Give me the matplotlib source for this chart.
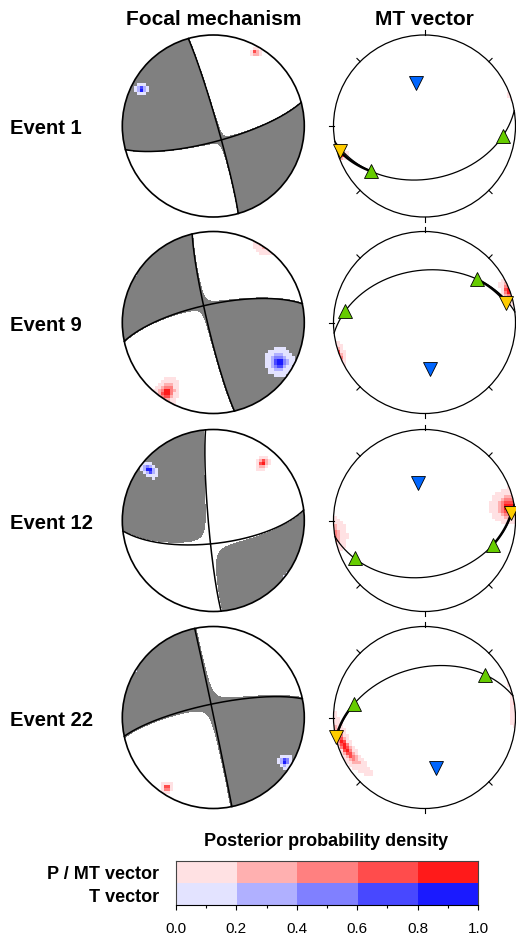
import numpy as np
import matplotlib

matplotlib.use("Agg")
import matplotlib.pyplot as plt
from matplotlib.colors import to_rgba, to_rgb
from matplotlib.patches import Circle

plt.rcParams["font.family"] = ["Liberation Sans", "DejaVu Sans"]

W, H = 516, 936

events = ["Event 1", "Event 9", "Event 12", "Event 22"]

# P and T axes of the best solutions (trend, plunge in degrees)
p_trend = [30.3, 213.4, 41.1, 213.8]
p_plunge = [7.2, 7.9, 17.7, 8.8]
t_trend = [297.4, 121.3, 308.3, 121.0]
t_plunge = [12.2, 15.3, 11.4, 7.9]
# small isotropic part of each moment tensor
iso_part = [0.006, 0.012, -0.035, 0.027]

# spread of the posterior P / T axes (major, minor sigma in degrees)
p_sigma = [(1.8, 1.2), (6.0, 2.8), (3.0, 1.5), (2.6, 1.4)]
t_sigma = [(2.4, 1.6), (5.4, 3.4), (4.2, 1.6), (2.9, 1.7)]

# MT vector panels (trend, plunge in degrees)
mt_blue = [(349.2, 49.8), (173.0, 47.0), (349.8, 55.8), (166.9, 42.8)]
mt_yellow = [(253.6, 3.0), (76.4, 8.4), (85.3, 4.9), (257.7, 0.8)]
mt_green_a = [(230.1, 23.8), (278.2, 13.0), (241.6, 13.7), (280.6, 22.0)]
mt_green_b = [(97.3, 14.3), (50.6, 26.0), (109.7, 21.3), (55.1, 19.4)]
mt_arc_end = ["a", "b", "b", "a"]
# posterior density of the MT vector: trend, plunge, sigma major, sigma minor, rotation
mt_post = [
    (250.0, 4.0, 2.5, 1.2, 0.0),
    (69.4, 2.5, 3.0, 3.0, 0.0),
    (81.0, 7.0, 7.0, 4.2, 0.0),
    (250.0, 7.0, 9.0, 3.0, -69.0),
]

levels = [0.0, 0.2, 0.4, 0.6, 0.8, 1.0]
red_colors = ["#ffe1e3", "#ffb0b0", "#ff8080", "#ff4c4c", "#ff1a1a"]
blue_colors = ["#e3e3ff", "#b0b0ff", "#8080ff", "#4848ff", "#1a1aff"]

row_y = [126, 322.5, 520.5, 717.5]
fm_x, mt_x, radius = 213.3, 424.5, 91


def unit(trend, plunge):
    t, p = np.radians(trend), np.radians(plunge)
    return np.array([np.cos(p) * np.sin(t), np.cos(p) * np.cos(t), np.sin(p)])


def project(v):
    # lower hemisphere, equal area
    v = np.asarray(v, float)
    v = np.where(v[..., 2:3] < 0, -v, v)
    theta = np.arccos(np.clip(v[..., 2], -1, 1))
    r = np.sqrt(2) * np.sin(theta / 2)
    az = np.arctan2(v[..., 0], v[..., 1])
    return r * np.sin(az), r * np.cos(az)


def directions(x):
    X, Y = np.meshgrid(x, x)
    r = np.hypot(X, Y)
    theta = 2 * np.arcsin(np.clip(r / np.sqrt(2), 0, 1))
    az = np.arctan2(X, Y)
    V = np.stack([np.sin(theta) * np.sin(az), np.sin(theta) * np.cos(az), np.cos(theta)], axis=-1)
    return X, Y, V


def great_circle(normal, n=300):
    normal = normal / np.linalg.norm(normal)
    u = np.cross(normal, [0, 0, 1.0])
    u /= np.linalg.norm(u)
    w = np.cross(normal, u)
    if w[2] < 0:
        w = -w
    t = np.linspace(0, np.pi, n)
    return project(np.outer(np.cos(t), u) + np.outer(np.sin(t), w))


def arc(a, b, n=60):
    om = np.arccos(np.clip(a @ b, -1, 1))
    t = np.linspace(0, 1, n)[:, None]
    return project((np.sin((1 - t) * om) * a + np.sin(t * om) * b) / np.sin(om))


def blob(V, trend, plunge, s_major, s_minor, rot=0.0):
    a = unit(trend, plunge)
    t, p, ps = np.radians(trend), np.radians(plunge), np.radians(rot)
    e_dip = np.array([-np.sin(p) * np.sin(t), -np.sin(p) * np.cos(t), np.cos(p)])
    e_tan = np.array([np.cos(t), -np.sin(t), 0.0])
    m = np.cos(ps) * e_dip + np.sin(ps) * e_tan
    k = -np.sin(ps) * e_dip + np.cos(ps) * e_tan
    S = V * np.sign(V @ a)[..., None]
    return np.exp(-0.5 * ((S @ m / np.radians(s_major)) ** 2 + (S @ k / np.radians(s_minor)) ** 2))


def draw_density(ax, dens, colors, clip):
    idx = np.digitize(dens, levels[1:-1])
    rgba = np.array([to_rgba(c) for c in colors])[idx]
    rgba[..., 3] = np.where(dens >= 0.01, 1.0, 0.0)
    im = ax.imshow(rgba, extent=(-1, 1, -1, 1), origin="lower",
                   interpolation="nearest", zorder=2)
    im.set_clip_path(clip)


def add_panel(cx, cy, pad=1.1):
    half = radius * pad
    ax = fig.add_axes([(cx - half) / W, 1 - (cy + half) / H, 2 * half / W, 2 * half / H])
    return ax


def finish(ax, pad=1.1):
    ax.set_xlim(-pad, pad)
    ax.set_ylim(-pad, pad)
    ax.set_aspect("equal")
    ax.axis("off")


fig = plt.figure(figsize=(W / 100, H / 100), dpi=100)

fine = np.linspace(-1.02, 1.02, 501)
FX, FY, FV = directions(fine)
cell_edges = np.linspace(-1, 1, 62)
cells = 0.5 * (cell_edges[1:] + cell_edges[:-1])
_, _, CV = directions(cells)

for i, name in enumerate(events):
    cy = row_y[i]

    # focal mechanism
    ax = add_panel(fm_x, cy)
    clip = Circle((0, 0), 1, transform=ax.transData)
    P = unit(p_trend[i], p_plunge[i])
    T = unit(t_trend[i], t_plunge[i])
    T = T - (T @ P) * P
    T /= np.linalg.norm(T)
    M = np.outer(T, T) - np.outer(P, P) + iso_part[i] * np.eye(3)
    val = np.einsum("...i,ij,...j->...", FV, M, FV)
    ax.add_patch(Circle((0, 0), 1, fc="white", ec="none", zorder=0))
    cs = ax.contourf(FX, FY, val, levels=[0, val.max() + 1], colors=["#808080"], zorder=1)
    cs.set_clip_path(clip)

    dp = blob(CV, p_trend[i], p_plunge[i], *p_sigma[i])
    dt = blob(CV, t_trend[i], t_plunge[i], *t_sigma[i])
    draw_density(ax, np.where(dp >= dt, dp, 0), red_colors, clip)
    draw_density(ax, np.where(dt > dp, dt, 0), blue_colors, clip)

    for normal in (T + P, T - P):
        x, y = great_circle(normal)
        ax.plot(x, y, color="black", lw=1.1, zorder=3)
    ax.add_patch(Circle((0, 0), 1, fill=False, ec="black", lw=1.2, zorder=4))
    finish(ax)

    # MT vector
    ax = add_panel(mt_x, cy)
    clip = Circle((0, 0), 1, transform=ax.transData)
    tr, pl, s1, s2, rot = mt_post[i]
    draw_density(ax, blob(CV, tr, pl, s1, s2, rot), red_colors, clip)

    ga = unit(*mt_green_a[i])
    gb = unit(*mt_green_b[i])
    yel = unit(*mt_yellow[i])
    x, y = great_circle(np.cross(ga, gb))
    ax.plot(x, y, color="black", lw=0.9, zorder=3)
    x, y = arc(yel, ga if mt_arc_end[i] == "a" else gb)
    ax.plot(x, y, color="black", lw=1.8, zorder=3)

    ax.add_patch(Circle((0, 0), 1, fill=False, ec="black", lw=0.9, zorder=3))
    for az in np.radians(np.arange(0, 360, 45)):
        ax.plot([np.sin(az), 1.05 * np.sin(az)], [np.cos(az), 1.05 * np.cos(az)],
                color="black", lw=0.8, zorder=3)

    for (tr, pl), marker, color in [(mt_blue[i], "v", "#0066ff"),
                                    (mt_yellow[i], "v", "#ffcc00"),
                                    (mt_green_a[i], "^", "#66cc00"),
                                    (mt_green_b[i], "^", "#66cc00")]:
        x, y = project(unit(tr, pl))
        ax.plot(x, y, marker=marker, ms=9.5, mfc=color, mec="black", mew=0.6,
                ls="none", zorder=5, clip_on=False)
    finish(ax)

    fig.text(10 / W, 1 - (cy + 8.5) / H, name, ha="left", va="baseline",
             fontsize=14.5, fontweight="bold")

fig.text(fm_x / W, 1 - 25 / H, "Focal mechanism", ha="center", va="baseline",
         fontsize=15, fontweight="bold")
fig.text(mt_x / W, 1 - 25 / H, "MT vector", ha="center", va="baseline",
         fontsize=15, fontweight="bold")

# colour key
cax = fig.add_axes([176 / W, 1 - 905 / H, 302 / W, 44 / H])
rgb = np.array([[to_rgb(c) for c in blue_colors], [to_rgb(c) for c in red_colors]])
cax.imshow(rgb, extent=(0, 1, 0, 2), origin="lower", aspect="auto", interpolation="nearest")
cax.set_xlim(0, 1)
cax.set_ylim(0, 2)
cax.set_yticks([])
cax.set_xticks(levels)
cax.set_xticklabels([f"{v:.1f}" for v in levels])
cax.set_xticks(np.arange(0.1, 1.0, 0.2), minor=True)
cax.tick_params(axis="x", which="major", length=3.6, width=0.8, pad=8.5, labelsize=11)
cax.tick_params(axis="x", which="minor", length=2.2, width=0.8)
for side in ["left", "right", "top"]:
    cax.spines[side].set_color("#444444")
    cax.spines[side].set_linewidth(0.8)
cax.spines["bottom"].set_linewidth(0.8)

fig.text(326 / W, 1 - 846 / H, "Posterior probability density", ha="center",
         va="baseline", fontsize=13, fontweight="bold")
fig.text(159 / W, 1 - 879 / H, "P / MT vector", ha="right", va="baseline",
         fontsize=13, fontweight="bold")
fig.text(159 / W, 1 - 901.5 / H, "T vector", ha="right", va="baseline",
         fontsize=13, fontweight="bold")

fig.savefig("out.png", dpi=100)
